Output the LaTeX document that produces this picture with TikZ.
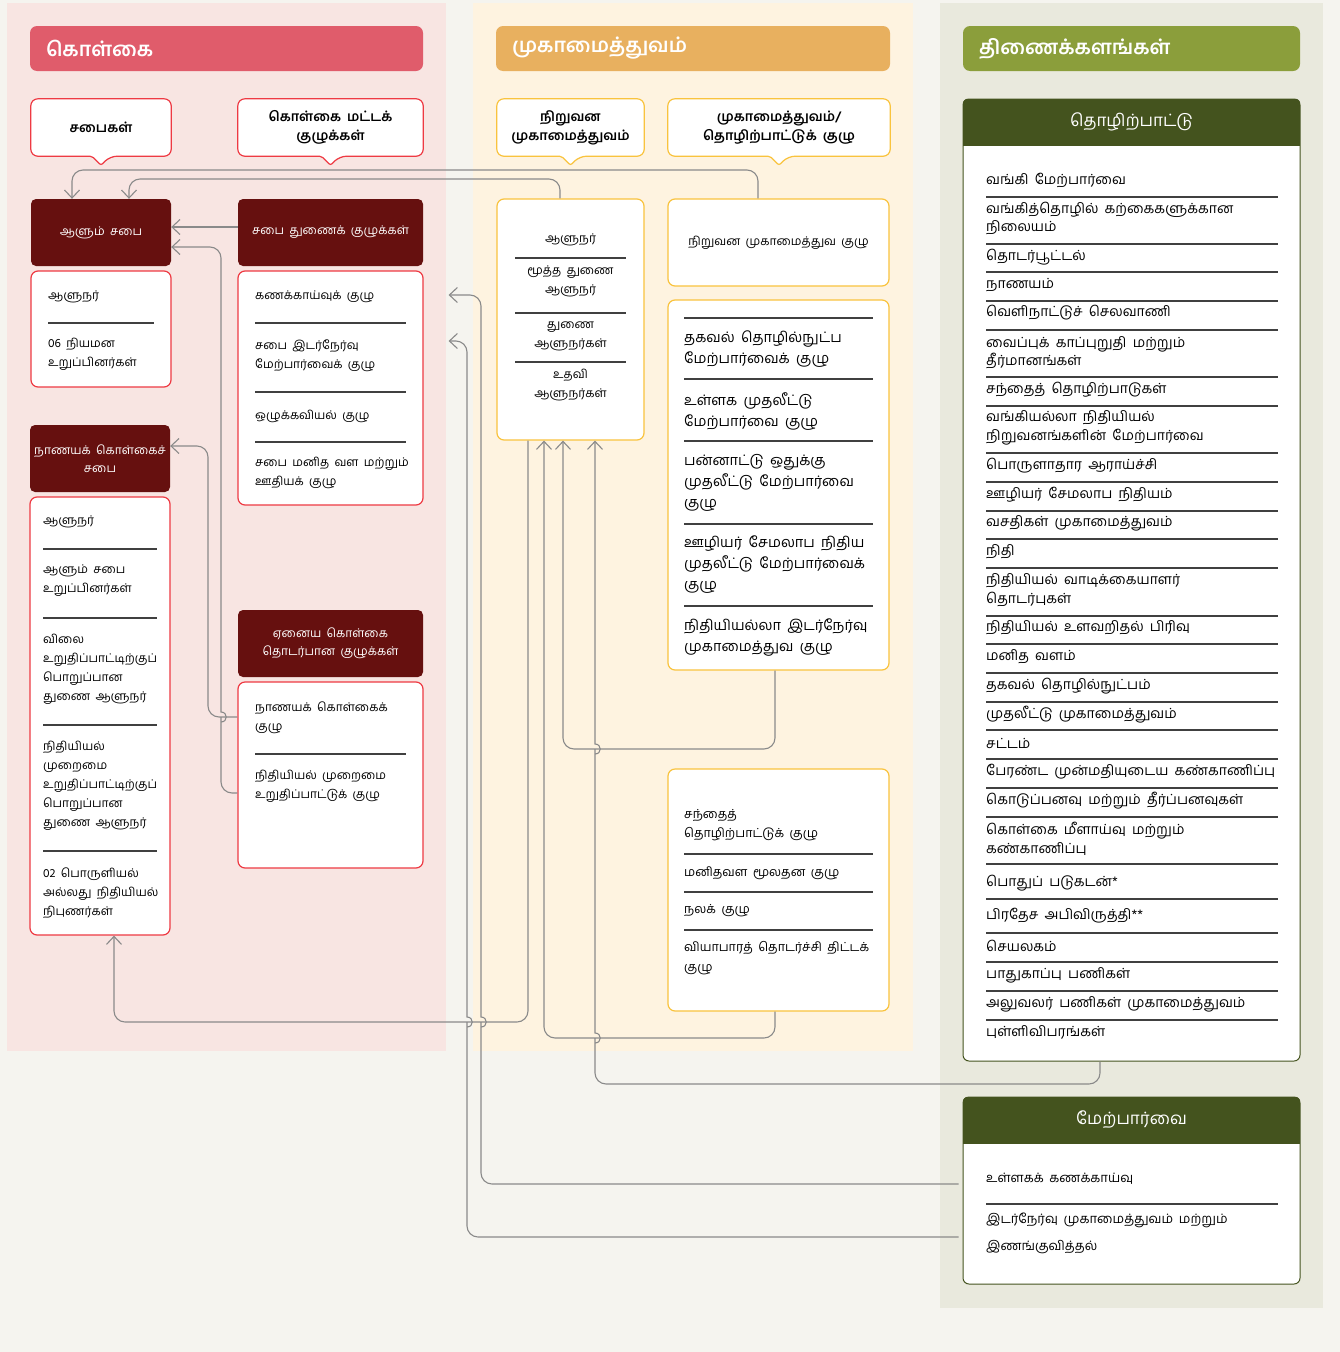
\documentclass[tikz,border=0pt]{standalone}
\usepackage{fontspec}
\setmainfont[Script=Tamil, WordSpace=1.8]{Hind Madurai}
\usetikzlibrary{positioning}
\usetikzlibrary{arrows.meta}
\usetikzlibrary{backgrounds}
\definecolor{bgcol}{HTML}{F5F4EF}
\definecolor{polbg}{HTML}{F8E5E2}
\definecolor{mgtbg}{HTML}{FEF3E0}
\definecolor{depbg}{HTML}{E9E9DD}
\definecolor{polhd}{HTML}{E05C6B}
\definecolor{mgthd}{HTML}{E8B05F}
\definecolor{dephd}{HTML}{8B9E3B}
\definecolor{darkred}{HTML}{66100F}
\definecolor{darkgreen}{HTML}{44531E}
\definecolor{redline}{HTML}{EE3A43}
\definecolor{yelline}{HTML}{F9C33E}
\definecolor{conncol}{HTML}{8A8A8A}
\tikzset{
    colhead/.style = {rectangle, rounded corners=7pt, minimum height=45pt, inner xsep=16pt, align=left, text=white, font=\fontsize{20}{24}\selectfont\bfseries},
    calltext/.style = {rectangle, minimum height=57pt, align=center, font=\fontsize{13.5}{19}\selectfont\bfseries},
    callr/.style = {draw=redline, fill=white, line width=1.2pt},
    cally/.style = {draw=yelline, fill=white, line width=1.2pt},
    darkbox/.style = {rectangle, rounded corners=5pt, fill=darkred, text=white, minimum height=67pt, inner xsep=3pt, align=center, font=\fontsize{12}{18}\selectfont},
    redbox/.style = {rectangle, rounded corners=7pt, draw=redline, fill=white, line width=1.2pt},
    yelbox/.style = {rectangle, rounded corners=7pt, draw=yelline, fill=white, line width=1.2pt},
    grnbox/.style = {rectangle, rounded corners=6pt, draw=darkgreen, fill=white, line width=1pt},
    dephead/.style = {text=white, font=\fontsize{17}{20}\selectfont},
    itemtext/.style = {anchor=west, align=left, inner sep=0pt, font=\fontsize{12}{19}\selectfont},
    itemmid/.style = {align=center, inner sep=0pt, font=\fontsize{12}{19}\selectfont},
    sepline/.style = {line width=1.2pt, draw=black!75},
    edgeg/.style = {-{Straight Barb[length=8pt,width=15pt]}, line width=1.1pt, draw=conncol, rounded corners=11pt},
    jumpup/.style = {insert path={[sharp corners] -- ++(0,-6) .. controls +(7,0) and +(7,0) .. ++(0,-10) -- ++(0,-6) [rounded corners=11pt]}} % hop over a crossing
}

\begin{document}
\begin{tikzpicture}[x=1pt, y=-1pt]
  \useasboundingbox (0,0) rectangle (1340,1352);

  % column heads
  \node (hpol) at (226.5,48.5) [colhead, fill=polhd, text width=361pt] {கொள்கை};
  \node (hmgt) at (693,48.5) [colhead, fill=mgthd, text width=362pt] {முகாமைத்துவம்};
  \node (hdep) at (1131.5,48.5) [colhead, fill=dephd, text width=305pt] {திணைக்களங்கள்};

  % callouts
  \node (cset) at (101,127.5) [calltext, minimum width=140pt] {சபைகள்};
  \node (cpol) at (330.5,127.5) [calltext, minimum width=185pt] {கொள்கை மட்டக்\\குழுக்கள்};
  \node (cinst) at (570.5,127.5) [calltext, minimum width=147pt] {நிறுவன\\முகாமைத்துவம்};
  \node (cmgt) at (779,127.5) [calltext, minimum width=222pt] {முகாமைத்துவம்/\\தொழிற்பாட்டுக் குழு};

  % policy column
  \node (gov) at (101,232.5) [darkbox, minimum width=140pt] {ஆளும் சபை};
  \node (sub) at (330.5,232.5) [darkbox, minimum width=185pt] {சபை துணைக் குழுக்கள்};
  \node (mpb) at (100,458.5) [darkbox, minimum width=140pt] {நாணயக் கொள்கைச்\\சபை};
  \node (oth) at (330.5,643.5) [darkbox, minimum width=185pt] {ஏனைய கொள்கை\\தொடர்பான குழுக்கள்};

  \node (govL) at (101,329) [redbox, minimum width=140pt, minimum height=116pt] {};
  \node (gov1) at (48,297) [itemtext] {ஆளுநர்};
  \node (gov2) at (48,354.5) [itemtext] {06 நியமன\\உறுப்பினர்கள்};
  \draw[sepline] (48,323) -- (154,323);

  \node (subL) at (330.5,388) [redbox, minimum width=185pt, minimum height=234pt] {};
  \node (sub1) at (255,297) [itemtext] {கணக்காய்வுக் குழு};
  \node (sub2) at (255,356) [itemtext] {சபை இடர்நேர்வு\\மேற்பார்வைக் குழு};
  \node (sub3) at (255,416) [itemtext] {ஒழுக்கவியல் குழு};
  \node (sub4) at (255,473) [itemtext] {சபை மனித வள மற்றும்\\ஊதியக் குழு};
  \draw[sepline] (255,323) -- (406,323) (255,392) -- (406,392) (255,442) -- (406,442);

  \node (mpbL) at (100,716) [redbox, minimum width=140pt, minimum height=438pt] {};
  \node (mpb1) at (43,522) [itemtext] {ஆளுநர்};
  \node (mpb2) at (43,581) [itemtext] {ஆளும் சபை\\உறுப்பினர்கள்};
  \node (mpb3) at (43,669.5) [itemtext] {விலை\\உறுதிப்பாட்டிற்குப்\\பொறுப்பான\\துணை ஆளுநர்};
  \node (mpb4) at (43,786) [itemtext] {நிதியியல்\\முறைமை\\உறுதிப்பாட்டிற்குப்\\பொறுப்பான\\துணை ஆளுநர்};
  \node (mpb5) at (43,893) [itemtext] {02 பொருளியல்\\அல்லது நிதியியல்\\நிபுணர்கள்};
  \draw[sepline] (43,549) -- (157,549) (43,618) -- (157,618) (43,725) -- (157,725) (43,851) -- (157,851);

  \node (othL) at (330.5,775) [redbox, minimum width=185pt, minimum height=186pt] {};
  \node (oth1) at (255,718) [itemtext] {நாணயக் கொள்கைக்\\குழு};
  \node (oth2) at (255,786.5) [itemtext] {நிதியியல் முறைமை\\உறுதிப்பாட்டுக் குழு};
  \draw[sepline] (255,754) -- (406,754);

  % management column
  \node (govM) at (570.5,319.5) [yelbox, minimum width=147pt, minimum height=241pt] {};
  \node (gm1) at (570.5,240) [itemmid] {ஆளுநர்};
  \node (gm2) at (570.5,281.5) [itemmid] {மூத்த துணை\\ஆளுநர்};
  \node (gm3) at (570.5,336) [itemmid] {துணை\\ஆளுநர்கள்};
  \node (gm4) at (570.5,385.5) [itemmid] {உதவி\\ஆளுநர்கள்};
  \draw[sepline] (515,258) -- (626,258) (515,313) -- (626,313) (515,362) -- (626,362);

  \node (mgmt) at (778.5,242.5) [yelbox, minimum width=221pt, minimum height=87pt, font=\fontsize{12}{19}\selectfont] {நிறுவன முகாமைத்துவ குழு};

  \node (comA) at (778.5,485) [yelbox, minimum width=221pt, minimum height=370pt] {};
  \node (ca1) at (684,349) [itemtext, font=\fontsize{14.5}{21}\selectfont] {தகவல் தொழில்நுட்ப\\மேற்பார்வைக் குழு};
  \node (ca2) at (684,411.5) [itemtext, font=\fontsize{14.5}{21}\selectfont] {உள்ளக முதலீட்டு\\மேற்பார்வை குழு};
  \node (ca3) at (684,483) [itemtext, font=\fontsize{14.5}{21}\selectfont] {பன்னாட்டு ஒதுக்கு\\முதலீட்டு மேற்பார்வை\\குழு};
  \node (ca4) at (684,565) [itemtext, font=\fontsize{14.5}{21}\selectfont] {ஊழியர் சேமலாப நிதிய\\முதலீட்டு மேற்பார்வைக்\\குழு};
  \node (ca5) at (684,637.5) [itemtext, font=\fontsize{14.5}{21}\selectfont] {நிதியியல்லா இடர்நேர்வு\\முகாமைத்துவ குழு};
  \draw[sepline] (684,318) -- (873,318) (684,379) -- (873,379) (684,441) -- (873,441) (684,524) -- (873,524) (684,606) -- (873,606);

  \node (comB) at (778.5,890) [yelbox, minimum width=221pt, minimum height=242pt] {};
  \node (cb1) at (684,825) [itemtext, font=\fontsize{12.5}{19.5}\selectfont] {சந்தைத்\\தொழிற்பாட்டுக் குழு};
  \node (cb2) at (684,873) [itemtext, font=\fontsize{12.5}{19.5}\selectfont] {மனிதவள மூலதன குழு};
  \node (cb3) at (684,911) [itemtext, font=\fontsize{12.5}{19.5}\selectfont] {நலக் குழு};
  \node (cb4) at (684,958) [itemtext, font=\fontsize{12.5}{19.5}\selectfont] {வியாபாரத் தொடர்ச்சி திட்டக்\\குழு};
  \draw[sepline] (684,854) -- (873,854) (684,892) -- (873,892) (684,930) -- (873,930);

  % departments column
  \node (ops) at (1131.5,580) [grnbox, minimum width=337pt, minimum height=962pt] {};
  \begin{scope}
    \clip[rounded corners=6pt] (ops.north west) rectangle (ops.south east);
    \fill[darkgreen] (ops.north west) rectangle (ops.east |- 0,146);
  \end{scope}
  \node (opsH) at (1131.5,122) [dephead] {தொழிற்பாட்டு};
  \node (op1) at (986,180) [itemtext, font=\fontsize{14}{18.5}\selectfont] {வங்கி மேற்பார்வை};
  \node (op2) at (986,218.5) [itemtext, font=\fontsize{14}{18.5}\selectfont] {வங்கித்தொழில் கற்கைகளுக்கான\\நிலையம்};
  \node (op3) at (986,257) [itemtext, font=\fontsize{14}{18.5}\selectfont] {தொடர்பூட்டல்};
  \node (op4) at (986,285) [itemtext, font=\fontsize{14}{18.5}\selectfont] {நாணயம்};
  \node (op5) at (986,313) [itemtext, font=\fontsize{14}{18.5}\selectfont] {வெளிநாட்டுச் செலவாணி};
  \node (op6) at (986,352.5) [itemtext, font=\fontsize{14}{18.5}\selectfont] {வைப்புக் காப்புறுதி மற்றும்\\தீர்மானங்கள்};
  \node (op7) at (986,390) [itemtext, font=\fontsize{14}{18.5}\selectfont] {சந்தைத் தொழிற்பாடுகள்};
  \node (op8) at (986,428) [itemtext, font=\fontsize{14}{18.5}\selectfont] {வங்கியல்லா நிதியியல்\\நிறுவனங்களின் மேற்பார்வை};
  \node (op9) at (986,466) [itemtext, font=\fontsize{14}{18.5}\selectfont] {பொருளாதார ஆராய்ச்சி};
  \node (op10) at (986,495) [itemtext, font=\fontsize{14}{18.5}\selectfont] {ஊழியர் சேமலாப நிதியம்};
  \node (op11) at (986,523) [itemtext, font=\fontsize{14}{18.5}\selectfont] {வசதிகள் முகாமைத்துவம்};
  \node (op12) at (986,552) [itemtext, font=\fontsize{14}{18.5}\selectfont] {நிதி};
  \node (op13) at (986,590) [itemtext, font=\fontsize{14}{18.5}\selectfont] {நிதியியல் வாடிக்கையாளர்\\தொடர்புகள்};
  \node (op14) at (986,628) [itemtext, font=\fontsize{14}{18.5}\selectfont] {நிதியியல் உளவறிதல் பிரிவு};
  \node (op15) at (986,657) [itemtext, font=\fontsize{14}{18.5}\selectfont] {மனித வளம்};
  \node (op16) at (986,686) [itemtext, font=\fontsize{14}{18.5}\selectfont] {தகவல் தொழில்நுட்பம்};
  \node (op17) at (986,715) [itemtext, font=\fontsize{14}{18.5}\selectfont] {முதலீட்டு முகாமைத்துவம்};
  \node (op18) at (986,743) [itemtext, font=\fontsize{14}{18.5}\selectfont] {சட்டம்};
  \node (op19) at (986,772) [itemtext, font=\fontsize{14}{18.5}\selectfont] {பேரண்ட முன்மதியுடைய கண்காணிப்பு};
  \node (op20) at (986,801) [itemtext, font=\fontsize{14}{18.5}\selectfont] {கொடுப்பனவு மற்றும் தீர்ப்பனவுகள்};
  \node (op21) at (986,839) [itemtext, font=\fontsize{14}{18.5}\selectfont] {கொள்கை மீளாய்வு மற்றும்\\கண்காணிப்பு};
  \node (op22) at (986,883) [itemtext, font=\fontsize{14}{18.5}\selectfont] {பொதுப் படுகடன்*};
  \node (op23) at (986,916) [itemtext, font=\fontsize{14}{18.5}\selectfont] {பிரதேச அபிவிருத்தி**};
  \node (op24) at (986,946) [itemtext, font=\fontsize{14}{18.5}\selectfont] {செயலகம்};
  \node (op25) at (986,975) [itemtext, font=\fontsize{14}{18.5}\selectfont] {பாதுகாப்பு பணிகள்};
  \node (op26) at (986,1004) [itemtext, font=\fontsize{14}{18.5}\selectfont] {அலுவலர் பணிகள் முகாமைத்துவம்};
  \node (op27) at (986,1032) [itemtext, font=\fontsize{14}{18.5}\selectfont] {புள்ளிவிபரங்கள்};
  \draw[sepline] (986,197) -- (1278,197) (986,244) -- (1278,244) (986,272) -- (1278,272)
    (986,301) -- (1278,301) (986,330) -- (1278,330) (986,377) -- (1278,377)
    (986,406) -- (1278,406) (986,453) -- (1278,453) (986,482) -- (1278,482)
    (986,511) -- (1278,511) (986,539) -- (1278,539) (986,568) -- (1278,568)
    (986,616) -- (1278,616) (986,644) -- (1278,644) (986,673) -- (1278,673)
    (986,702) -- (1278,702) (986,730) -- (1278,730) (986,759) -- (1278,759)
    (986,788) -- (1278,788) (986,817) -- (1278,817) (986,864) -- (1278,864)
    (986,899) -- (1278,899) (986,933) -- (1278,933) (986,962) -- (1278,962)
    (986,991) -- (1278,991) (986,1020) -- (1278,1020);

  \node (sup) at (1131.5,1190.5) [grnbox, minimum width=337pt, minimum height=187pt] {};
  \begin{scope}
    \clip[rounded corners=6pt] (sup.north west) rectangle (sup.south east);
    \fill[darkgreen] (sup.north west) rectangle (sup.east |- 0,1144);
  \end{scope}
  \node (supH) at (1131.5,1120) [dephead] {மேற்பார்வை};
  \node (sp1) at (986,1179) [itemtext, font=\fontsize{13}{27}\selectfont] {உள்ளகக் கணக்காய்வு};
  \node (sp2) at (986,1233.5) [itemtext, font=\fontsize{13}{27}\selectfont] {இடர்நேர்வு முகாமைத்துவம் மற்றும்\\இணங்குவித்தல்};
  \draw[sepline] (986,1204) -- (1278,1204);

  % reporting lines
  \draw[edgeg] (sub.west |- 0,227) -- (gov.east |- 0,227);
  \draw[edgeg] (othL.west |- 0,793) -- (221,793) -- (221,728) [jumpup] -- (221,247) -- (gov.east |- 0,247);
  \draw[edgeg] (othL.west |- 0,717) -- (208,717) -- (208,446) -- (mpb.east |- 0,446);
  \draw[edgeg] (govM.north -| 560,0) -- (560,179) -- (129,179) -- (gov.north -| 129,0);
  \draw[edgeg] (mgmt.north -| 758,0) -- (758,170) -- (72,170) -- (gov.north -| 72,0);
  \draw[edgeg] (comA.south -| 775,0) -- (775,749) -- (563,749) -- (govM.south -| 563,0);
  \draw[edgeg] (comB.south -| 775,0) -- (775,1038) -- (544,1038) -- (govM.south -| 544,0);
  \draw[edgeg] (ops.south -| 1100,0) -- (1100,1084) -- (595,1084) -- (595,1049) [jumpup] -- (595,760) [jumpup] -- (govM.south -| 595,0);
  \draw[edgeg] (govM.south -| 528,0) -- (528,1022) -- (114,1022) -- (mpbL.south -| 114,0);
  \draw[edgeg, shorten <=4pt, shorten >=25pt] (sup.west |- 0,1184) -- (481,1184) -- (481,1033) [jumpup] -- (481,295) -- (subL.east |- 0,295);
  \draw[edgeg, shorten <=4pt, shorten >=25pt] (sup.west |- 0,1237) -- (467,1237) -- (467,1033) [jumpup] -- (467,341) -- (subL.east |- 0,341);

  \begin{scope}[on background layer]
    \fill[bgcol] (0,0) rectangle (1340,1352);
    \fill[polbg] (7,3) rectangle (446,1051);
    \fill[mgtbg] (473,3) rectangle (913,1051);
    \fill[depbg] (940,3) rectangle (1323,1308);
    \draw[callr] (cset.west) [rounded corners=7pt] -- (cset.north west) -- (cset.north east) -- (cset.south east) -- ([xshift=9pt]cset.south) [rounded corners=2pt] -- ([yshift=-9pt]cset.south) -- ([xshift=-9pt]cset.south) [rounded corners=7pt] -- (cset.south west) -- cycle;
    \draw[callr] (cpol.west) [rounded corners=7pt] -- (cpol.north west) -- (cpol.north east) -- (cpol.south east) -- ([xshift=9pt]cpol.south) [rounded corners=2pt] -- ([yshift=-9pt]cpol.south) -- ([xshift=-9pt]cpol.south) [rounded corners=7pt] -- (cpol.south west) -- cycle;
    \draw[cally] (cinst.west) [rounded corners=7pt] -- (cinst.north west) -- (cinst.north east) -- (cinst.south east) -- ([xshift=9pt]cinst.south) [rounded corners=2pt] -- ([yshift=-9pt]cinst.south) -- ([xshift=-9pt]cinst.south) [rounded corners=7pt] -- (cinst.south west) -- cycle;
    \draw[cally] (cmgt.west) [rounded corners=7pt] -- (cmgt.north west) -- (cmgt.north east) -- (cmgt.south east) -- ([xshift=9pt]cmgt.south) [rounded corners=2pt] -- ([yshift=-9pt]cmgt.south) -- ([xshift=-9pt]cmgt.south) [rounded corners=7pt] -- (cmgt.south west) -- cycle;
  \end{scope}
\end{tikzpicture}
\end{document}
